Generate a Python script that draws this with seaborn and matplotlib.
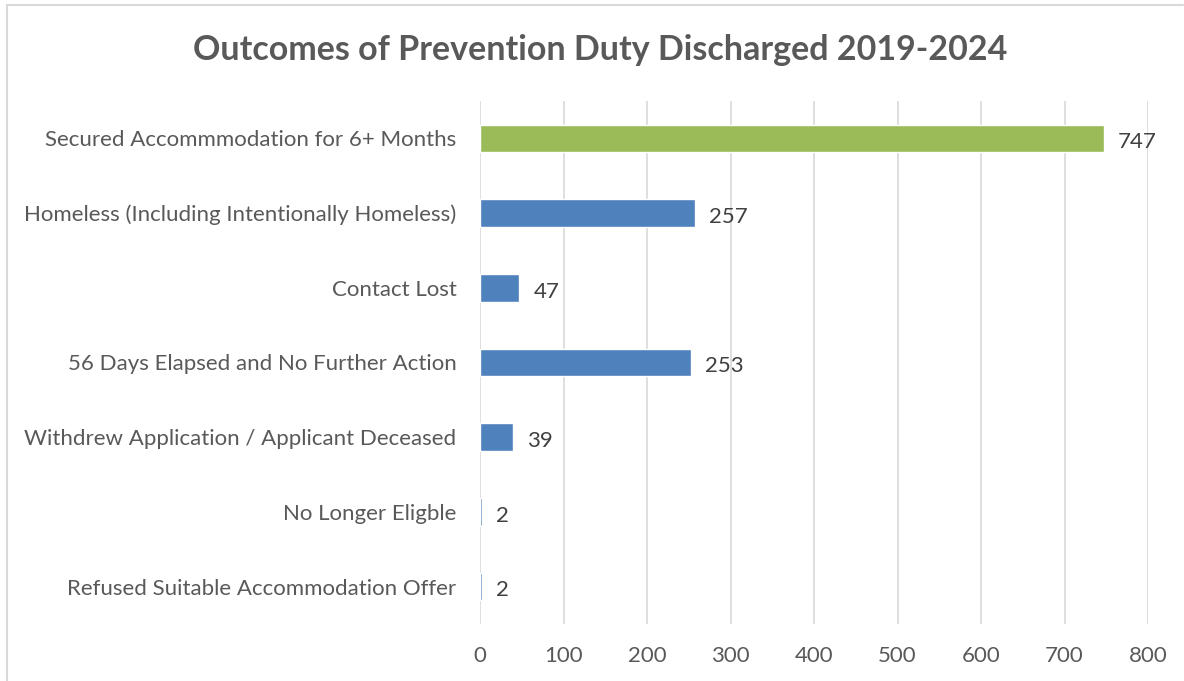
import matplotlib
matplotlib.use('Agg')
import matplotlib.pyplot as plt
import seaborn as sns
import pandas as pd
from matplotlib.lines import Line2D


# Chart data
categories = [
    'Secured Accommmodation for 6+ Months',
    'Homeless (Including Intentionally Homeless)',
    'Contact Lost',
    '56 Days Elapsed and No Further Action',
    'Withdrew Application / Applicant Deceased',
    'No Longer Eligble',
    'Refused Suitable Accommodation Offer',
]
values = [747, 257, 47, 253, 39, 2, 2]
bar_colors = ['#9BBB59', '#4F81BD', '#4F81BD', '#4F81BD', '#4F81BD', '#4F81BD', '#4F81BD']
x_ticks = [0, 100, 200, 300, 400, 500, 600, 700, 800]

TEXT_COLOR = '#595959'

sns.set_style('white')
plt.rcParams['font.family'] = ['Lato', 'DejaVu Sans']

df = pd.DataFrame({'outcome': categories, 'count': values})

fig = plt.figure(figsize=(11.84, 6.81), dpi=100)
ax = fig.add_axes([480 / 1184, 1 - 624 / 681, (1148 - 480) / 1184, (624 - 101) / 681])

sns.barplot(data=df, x='count', y='outcome', hue='outcome', palette=bar_colors,
            legend=False, width=0.37, ax=ax, saturation=1)

ax.set_xlim(0, 800)
ax.set_ylim(6.5, -0.5)
ax.set_xticks(x_ticks)
ax.set_xticklabels([str(t) for t in x_ticks])
ax.grid(axis='x', color='#D9D9D9', linewidth=1.2)
ax.grid(axis='y', visible=False)
ax.set_axisbelow(True)
for side in ['top', 'right', 'bottom', 'left']:
    ax.spines[side].set_visible(False)
ax.tick_params(axis='both', length=0, colors=TEXT_COLOR, labelsize=16)
ax.tick_params(axis='x', pad=16)
ax.tick_params(axis='y', pad=17)
ax.set_xlabel('')
ax.set_ylabel('')

# value labels
for i, v in enumerate(values):
    ax.text(v + 17, i + 0.05, str(v), va='center', ha='left', fontsize=16, color='#404040')

fig.text(0.507, 0.927, 'Outcomes of Prevention Duty Discharged 2019-2024',
         ha='center', va='center', fontsize=24.5, fontweight='bold', color=TEXT_COLOR)

# chart border (partially cropped)
fig.add_artist(Line2D([7 / 1184, 7 / 1184], [0, 1 - 5 / 681], color='#D9D9D9', linewidth=1.5))
fig.add_artist(Line2D([7 / 1184, 1183 / 1184], [1 - 5 / 681, 1 - 5 / 681], color='#D9D9D9', linewidth=1.5))

fig.savefig('out.png', dpi=100, facecolor='white')
